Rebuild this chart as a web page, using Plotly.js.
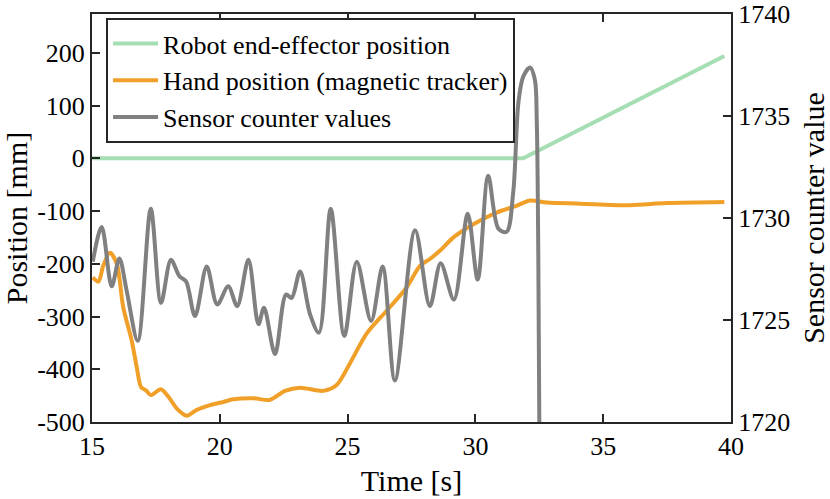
<!DOCTYPE html>
<html>
<head>
<meta charset="utf-8">
<script src="https://cdn.plot.ly/plotly-3.0.1.min.js"></script>
<style>html,body{margin:0;padding:0;background:#fff;}#chart{width:830px;height:499px;}</style>
</head>
<body>
<div id="chart"></div>
<script>
// Robot end-effector position (left axis, mm)
const robotTime = [15, 31.87, 39.74];
const robotPos = [0, 0, 194];

// Hand position from magnetic tracker (left axis, mm)
const handTime = [15.03, 15.25, 15.44, 15.70, 15.97, 16.22, 16.55, 16.75, 16.92, 17.11, 17.31, 17.69, 17.99, 18.31, 18.71, 19.10, 19.62, 20.14, 20.53, 21.31, 21.96, 22.55, 23.14, 24.05, 24.57, 25.09, 25.75, 26.53, 27.31, 27.83, 28.22, 28.62, 29.14, 29.92, 30.83, 31.62, 32.14, 32.79, 34.09, 36.05, 37.48, 39.74];
const handPos = [-226, -234, -204, -179, -200, -282, -345, -396, -434, -440, -449, -438, -452, -474, -488, -477, -468, -462, -457, -455, -458, -441, -435, -441, -430, -389, -332, -289, -245, -204, -191, -175, -150, -125, -103, -90, -80, -84, -86, -89, -85, -83];

// Sensor counter values (right axis)
const sensorTime = [15.03, 15.38, 15.77, 16.07, 16.36, 16.79, 17.30, 17.70, 18.09, 18.42, 18.68, 19.03, 19.49, 19.90, 20.33, 20.68, 21.12, 21.51, 21.73, 22.16, 22.59, 22.81, 23.14, 23.53, 23.88, 24.34, 24.87, 25.36, 25.92, 26.37, 26.85, 27.64, 28.22, 28.64, 29.16, 29.70, 30.09, 30.50, 30.90, 31.22, 31.48, 31.68, 31.87, 32.14, 32.33, 32.40, 32.46, 32.50, 32.55];
const sensorValue = [1727.86, 1729.56, 1726.65, 1728.02, 1726.41, 1723.98, 1730.45, 1725.84, 1727.95, 1727.14, 1726.89, 1725.19, 1727.62, 1725.76, 1726.65, 1725.68, 1727.95, 1724.79, 1725.60, 1723.33, 1726.25, 1726.08, 1727.38, 1725.28, 1724.38, 1730.45, 1724.22, 1727.86, 1724.95, 1727.62, 1722.04, 1729.40, 1725.68, 1727.78, 1726.00, 1730.21, 1726.98, 1732.07, 1729.48, 1729.32, 1731.26, 1735.63, 1736.93, 1737.38, 1736.76, 1734.82, 1728.35, 1720.10, 1715.00];

// Tick labels
const xTicks = [15, 20, 25, 30, 35, 40];
const yTicks = [-500, -400, -300, -200, -100, 0, 100, 200];
const yTickText = ['-500', '-400', '-300', '-200', '-100', '0', '100', '200'];
const y2Ticks = [1720, 1725, 1730, 1735, 1740];

const axisColor = '#262626';
const fontFam = '"Liberation Serif", "Times New Roman", serif';

const traces = [
  {x: robotTime, y: robotPos, type: 'scatter', mode: 'lines', name: 'Robot end-effector position',
   line: {color: '#a6deb3', width: 4}, yaxis: 'y'},
  {x: handTime, y: handPos, type: 'scatter', mode: 'lines', name: 'Hand position (magnetic tracker)',
   line: {color: '#f0a028', width: 4, shape: 'spline', smoothing: 0.8}, yaxis: 'y'},
  {x: sensorTime, y: sensorValue, type: 'scatter', mode: 'lines', name: 'Sensor counter values',
   line: {color: '#808080', width: 4, shape: 'spline', smoothing: 0.9}, yaxis: 'y2'}
];

const layout = {
  width: 830, height: 499,
  margin: {l: 92, r: 99, t: 14, b: 77},
  paper_bgcolor: '#ffffff', plot_bgcolor: '#ffffff',
  font: {family: fontFam, color: '#000000', size: 26},
  showlegend: true,
  legend: {x: 0.022, y: 0.99, xanchor: 'left', yanchor: 'top', bgcolor: '#ffffff',
    bordercolor: axisColor, borderwidth: 2, font: {family: fontFam, size: 26, color: '#000'},
    tracegroupgap: 0, itemwidth: 45},
  xaxis: {range: [15, 40], tickvals: xTicks, ticks: 'inside', ticklen: 8, tickwidth: 2,
    tickcolor: axisColor, showline: true, linewidth: 2, linecolor: axisColor, mirror: 'ticks',
    showgrid: false, zeroline: false, tickfont: {size: 26},
    title: {text: 'Time [s]', font: {size: 30}, standoff: 10}},
  yaxis: {range: [-500, 273.5], tickvals: yTicks, ticktext: yTickText, ticks: 'inside', ticklen: 8,
    tickwidth: 2, tickcolor: axisColor, showline: true, linewidth: 2, linecolor: axisColor,
    showgrid: false, zeroline: false, tickfont: {size: 26},
    title: {text: 'Position [mm]', font: {size: 30}, standoff: 10}},
  yaxis2: {range: [1720, 1740], tickvals: y2Ticks, overlaying: 'y', side: 'right', ticks: 'inside',
    ticklen: 8, tickwidth: 2, tickcolor: axisColor, showline: true, linewidth: 2, linecolor: axisColor,
    showgrid: false, zeroline: false, tickfont: {size: 26}, ticklabeloverflow: 'allow',
    title: {text: 'Sensor counter value', font: {size: 30}, standoff: 18}}
};

Plotly.newPlot('chart', traces, layout, {displayModeBar: false, staticPlot: true});
</script>
</body>
</html>
